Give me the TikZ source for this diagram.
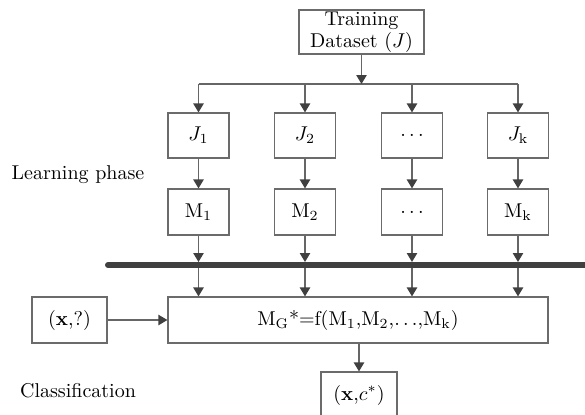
\documentclass[tikz,border=0pt]{standalone}
\usetikzlibrary{arrows.meta}
\definecolor{boxline}{gray}{0.42}
\definecolor{wire}{gray}{0.40}
\definecolor{tipcol}{gray}{0.25}
\definecolor{busbar}{gray}{0.25}
\begin{document}
\begin{tikzpicture}[x=0.5pt,y=-0.5pt,
  box/.style={draw=boxline, line width=0.6pt, inner sep=0pt, align=center,
    minimum width=30.5pt, minimum height=23pt},
  link/.style={draw=wire, line width=0.6pt,
    -{Triangle[width=5.2pt,length=4.5pt,color=tipcol,fill=tipcol]}},
  plain/.style={draw=wire, line width=0.6pt},
  label/.style={inner sep=0pt}]
\useasboundingbox (0,0) rectangle (585,414);

% training set and its split into k parts
\node[box, minimum width=62.5pt, minimum height=22pt] (train) at (361.5,32)
  {Training\\[-1pt]Dataset ($J$)};
\coordinate (fork) at (361.5,84);
\coordinate (forkL) at (198.5,84);
\coordinate (forkR) at (518,84);

\foreach \n/\x/\jt/\mt in {1/198.5/{$J_1$}/{M$_1$},
                            2/305/{$J_2$}/{M$_2$},
                            3/412/{$\ldots$}/{$\ldots$},
                            4/518/{$J_{\mathrm{k}}$}/{M$_{\mathrm{k}}$}} {
  \node[box, minimum height=22.5pt] (J\n) at (\x,135.5) {\jt};
  \node[box] (M\n) at (\x,212) {\mt};
  \coordinate (s\n) at (\x,84);
  \coordinate (bt\n) at (\x,262);
  \coordinate (bb\n) at (\x,268);
}

\draw[plain] (forkL) -- (forkR);
\draw[link] (train) -- (fork);

% thick bar separating learning from classification
\coordinate (barL) at (108,265);
\coordinate (barR) at (600,265);
\draw[busbar, line width=3pt, line cap=round] (barL) -- (barR);

% combined classifier
\node[box, minimum width=190pt] (MG) at (358,320)
  {M$_{\mathrm{G}}$*=f(M$_1$,M$_2$,$\ldots$,M$_{\mathrm{k}}$)};
\node[box, minimum width=37.5pt] (query) at (69.5,320) {($\mathbf{x}$,?)};
\node[box, minimum width=38pt] (result) at (359,395) {($\mathbf{x}$,$c^*$)};

\foreach \n in {1,2,3,4} {
  \draw[link] (s\n) -- (J\n);
  \draw[link] (J\n) -- (M\n);
  \draw[link] (M\n) -- (bt\n);
  \draw[link] (bb\n) -- (bb\n |- MG.north);
}
\draw[link] (query) -- (MG);
\draw[link] (MG.south -| result) -- (result);

% phase labels
\node[label] (learn) at (78,175) {Learning phase};
\node[label] (classif) at (78,391) {Classification};
\end{tikzpicture}
\end{document}
